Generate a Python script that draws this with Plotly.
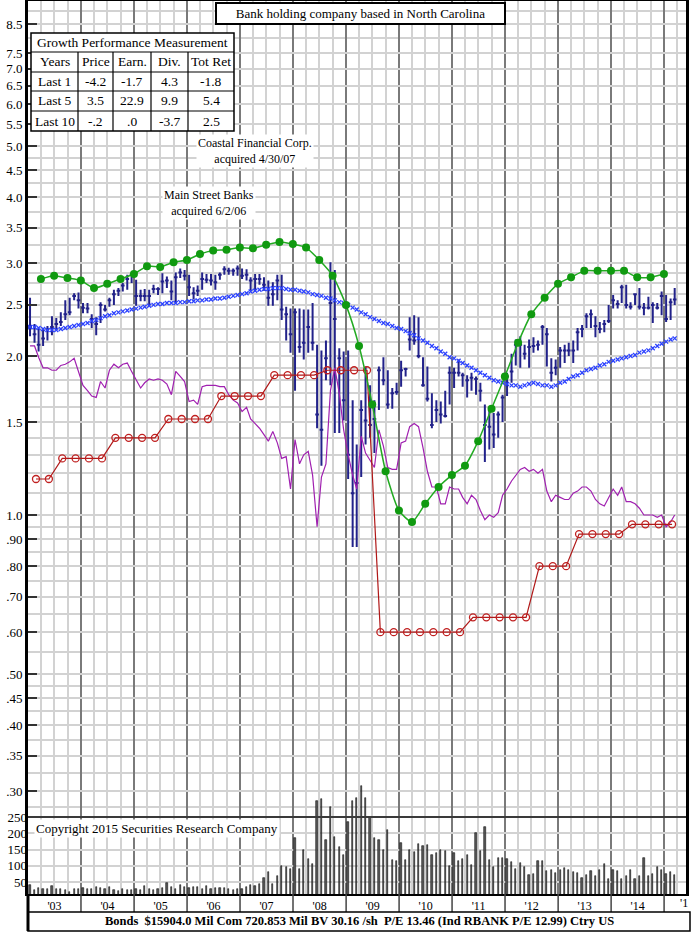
import plotly.graph_objects as go

# ---------------- DATA ----------------
N_MONTHS = 147  # Jan 2003 .. Mar 2015
month_dates = [f"{2003 + i // 12}-{i % 12 + 1:02d}-15" for i in range(N_MONTHS)]
quarter_ends = [f"{2003 + i // 4}-{['03-31', '06-30', '09-30', '12-31'][i % 4]}" for i in range(48)]
div_dates = [f"{2003 + (i * 3 + 1) // 12}-{(i * 3 + 1) % 12 + 1:02d}-25" for i in range(49)]

price_high = [2.58, 2.30, 2.25, 2.24, 2.28, 2.38, 2.36, 2.42, 2.55, 2.58, 2.63, 2.64,
              2.52, 2.52, 2.40, 2.37, 2.53, 2.50, 2.58, 2.67, 2.69, 2.75, 2.85, 2.87,
              2.79, 2.67, 2.68, 2.67, 2.73, 2.70, 2.87, 2.83, 2.78, 2.88, 2.93, 2.91,
              2.85, 2.70, 2.72, 2.88, 2.86, 2.86, 2.85, 2.88, 2.96, 2.94, 2.93, 2.97,
              2.93, 2.92, 2.82, 2.86, 2.86, 2.82, 2.78, 2.76, 2.85, 2.85, 2.48, 2.46,
              2.46, 2.46, 2.45, 2.45, 2.52, 2.10, 2.05, 2.14, 3.01, 2.91, 2.07, 2.04,
              2.05, 1.65, 1.36, 1.65, 1.91, 1.76, 1.65, 1.91, 1.99, 1.88, 1.74, 1.78,
              1.96, 1.90, 2.37, 2.39, 2.37, 1.99, 1.91, 1.70, 1.65, 1.64, 1.72, 1.91,
              1.90, 1.97, 1.86, 1.84, 1.86, 1.83, 1.78, 1.62, 1.58, 1.56, 1.57, 1.69,
              1.86, 2.02, 2.15, 2.18, 2.10, 2.15, 2.17, 2.14, 2.29, 2.26, 1.98, 1.97,
              2.08, 2.10, 2.12, 2.14, 2.26, 2.29, 2.41, 2.45, 2.38, 2.32, 2.34, 2.50,
              2.61, 2.55, 2.73, 2.73, 2.53, 2.63, 2.69, 2.52, 2.59, 2.53, 2.52, 2.65,
              2.61, 2.57, 2.69]
price_low = [2.18, 2.12, 2.04, 2.09, 2.14, 2.19, 2.24, 2.28, 2.34, 2.39, 2.55, 2.46,
             2.41, 2.41, 2.26, 2.19, 2.31, 2.43, 2.48, 2.50, 2.60, 2.65, 2.67, 2.75,
             2.49, 2.54, 2.54, 2.49, 2.63, 2.61, 2.63, 2.69, 2.55, 2.52, 2.81, 2.78,
             2.60, 2.56, 2.60, 2.67, 2.75, 2.72, 2.67, 2.79, 2.85, 2.85, 2.84, 2.84,
             2.80, 2.78, 2.66, 2.65, 2.73, 2.66, 2.49, 2.49, 2.55, 2.34, 2.14, 2.03,
             1.72, 2.03, 1.97, 2.03, 2.05, 1.46, 1.24, 1.80, 1.76, 1.43, 1.43, 1.51,
             1.17, 0.87, 0.87, 1.18, 1.36, 1.40, 1.31, 1.58, 1.76, 1.59, 1.59, 1.69,
             1.75, 1.83, 2.05, 2.10, 1.98, 1.75, 1.64, 1.46, 1.50, 1.49, 1.53, 1.62,
             1.74, 1.83, 1.75, 1.67, 1.72, 1.69, 1.64, 1.26, 1.33, 1.34, 1.40, 1.50,
             1.68, 1.78, 1.92, 1.90, 1.97, 1.90, 2.03, 2.05, 2.10, 1.91, 1.79, 1.84,
             1.90, 1.94, 2.00, 1.94, 2.05, 2.17, 2.26, 2.26, 2.17, 2.21, 2.22, 2.31,
             2.46, 2.46, 2.52, 2.46, 2.45, 2.50, 2.45, 2.39, 2.45, 2.31, 2.45, 2.39,
             2.32, 2.34, 2.50]
price_close = [2.27, 2.20, 2.10, 2.16, 2.25, 2.27, 2.30, 2.32, 2.40, 2.42, 2.60, 2.55,
               2.47, 2.46, 2.35, 2.30, 2.50, 2.45, 2.55, 2.62, 2.66, 2.72, 2.80, 2.85,
               2.60, 2.60, 2.60, 2.60, 2.68, 2.68, 2.77, 2.78, 2.65, 2.82, 2.88, 2.84,
               2.70, 2.63, 2.66, 2.80, 2.79, 2.78, 2.76, 2.85, 2.92, 2.90, 2.90, 2.93,
               2.84, 2.85, 2.78, 2.80, 2.80, 2.73, 2.58, 2.62, 2.78, 2.45, 2.40, 2.20,
               2.42, 2.08, 2.12, 2.27, 2.12, 1.55, 1.45, 1.98, 2.52, 2.35, 1.98, 1.65,
               1.30, 1.10, 1.15, 1.58, 1.51, 1.48, 1.52, 1.88, 1.80, 1.62, 1.70, 1.71,
               1.88, 1.89, 2.15, 2.14, 2.00, 1.76, 1.66, 1.48, 1.58, 1.55, 1.54, 1.86,
               1.86, 1.86, 1.84, 1.80, 1.82, 1.81, 1.72, 1.48, 1.47, 1.42, 1.55, 1.67,
               1.83, 1.87, 2.10, 2.10, 2.02, 2.08, 2.09, 2.10, 2.27, 2.20, 1.86, 1.90,
               2.05, 2.05, 2.05, 2.05, 2.22, 2.25, 2.38, 2.40, 2.28, 2.25, 2.30, 2.33,
               2.55, 2.51, 2.70, 2.50, 2.48, 2.62, 2.48, 2.47, 2.47, 2.50, 2.47, 2.60,
               2.35, 2.53, 2.56]

moving_avg = [2.27, 2.27, 2.26, 2.25, 2.24, 2.24, 2.24, 2.25, 2.26, 2.27, 2.28, 2.29,
              2.30, 2.31, 2.33, 2.34, 2.36, 2.38, 2.39, 2.41, 2.42, 2.43, 2.44, 2.45,
              2.46, 2.47, 2.48, 2.49, 2.50, 2.51, 2.51, 2.52, 2.52, 2.52, 2.53, 2.53,
              2.54, 2.54, 2.55, 2.55, 2.56, 2.56, 2.57, 2.57, 2.58, 2.59, 2.60, 2.61,
              2.62, 2.63, 2.65, 2.66, 2.67, 2.68, 2.68, 2.69, 2.69, 2.69, 2.68, 2.67,
              2.67, 2.66, 2.65, 2.64, 2.62, 2.61, 2.60, 2.58, 2.57, 2.55, 2.53, 2.52,
              2.50, 2.47, 2.45, 2.42, 2.40, 2.37, 2.35, 2.33, 2.31, 2.30, 2.28, 2.26,
              2.25, 2.23, 2.21, 2.19, 2.16, 2.14, 2.12, 2.09, 2.07, 2.04, 2.02, 1.99,
              1.98, 1.96, 1.94, 1.92, 1.90, 1.88, 1.86, 1.84, 1.82, 1.80, 1.79, 1.78,
              1.77, 1.76, 1.76, 1.75, 1.76, 1.77, 1.78, 1.77, 1.76, 1.76, 1.75, 1.76,
              1.78, 1.79, 1.81, 1.83, 1.84, 1.86, 1.88, 1.89, 1.90, 1.92, 1.93, 1.95,
              1.96, 1.97, 1.98, 1.99, 2.00, 2.01, 2.03, 2.04, 2.05, 2.07, 2.09, 2.11,
              2.13, 2.15, 2.16]

rel_strength = [2.09, 2.09, 1.99, 1.90, 1.90, 1.88, 1.88, 1.92, 1.93, 1.95, 1.98, 1.86,
                1.76, 1.72, 1.68, 1.67, 1.79, 1.74, 1.88, 1.93, 1.90, 1.93, 1.94, 1.87,
                1.80, 1.74, 1.78, 1.81, 1.80, 1.81, 1.80, 1.77, 1.69, 1.87, 1.83, 1.79,
                1.64, 1.65, 1.62, 1.75, 1.76, 1.76, 1.76, 1.75, 1.75, 1.69, 1.65, 1.63,
                1.57, 1.60, 1.52, 1.49, 1.46, 1.42, 1.38, 1.44, 1.37, 1.28, 1.29, 1.12,
                1.39, 1.25, 1.30, 1.32, 1.19, 0.95, 1.18, 1.25, 1.72, 1.90, 1.70, 1.45,
                1.30, 1.19, 1.12, 1.41, 1.31, 1.27, 1.23, 1.45, 1.35, 1.23, 1.22, 1.22,
                1.37, 1.38, 1.47, 1.49, 1.47, 1.34, 1.21, 1.13, 1.13, 1.05, 1.05, 1.13,
                1.12, 1.12, 1.08, 1.05, 1.09, 1.07, 1.02, 0.98, 1.00, 0.99, 1.01, 1.09,
                1.12, 1.16, 1.19, 1.22, 1.23, 1.21, 1.22, 1.20, 1.22, 1.11, 1.06, 1.09,
                1.08, 1.07, 1.07, 1.10, 1.11, 1.13, 1.13, 1.11, 1.07, 1.05, 1.04, 1.08,
                1.12, 1.09, 1.13, 1.06, 1.06, 1.05, 1.03, 1.00, 1.00, 1.00, 0.99, 1.00,
                0.95, 0.97, 1.00]

earnings = [2.80, 2.84, 2.81, 2.78, 2.69, 2.74, 2.80, 2.86, 2.96, 2.95, 3.01, 3.04,
            3.12, 3.17, 3.18, 3.21, 3.20, 3.25, 3.29, 3.26, 3.21, 3.04, 2.84, 2.50,
            2.09, 1.62, 1.21, 1.02, 0.97, 1.05, 1.13, 1.19, 1.24, 1.38, 1.59, 1.83,
            2.12, 2.40, 2.58, 2.74, 2.82, 2.90, 2.90, 2.90, 2.90, 2.82, 2.82, 2.86]

dividends = [1.17, 1.17, 1.28, 1.28, 1.28, 1.28, 1.40, 1.40, 1.40, 1.40, 1.52, 1.52,
             1.52, 1.52, 1.68, 1.68, 1.68, 1.68, 1.84, 1.84, 1.84, 1.84, 1.88, 1.88,
             1.88, 1.88, 0.60, 0.60, 0.60, 0.60, 0.60, 0.60, 0.60, 0.64, 0.64, 0.64,
             0.64, 0.64, 0.80, 0.80, 0.80, 0.92, 0.92, 0.92, 0.92, 0.96, 0.96, 0.96,
             0.96]

volume = [42, 25, 32, 28, 27, 38, 29, 30, 24, 20, 30, 28,
          32, 27, 30, 36, 33, 28, 34, 25, 22, 30, 26, 24,
          30, 24, 38, 28, 26, 30, 33, 46, 36, 28, 40, 34,
          33, 34, 35, 30, 38, 29, 33, 32, 31, 27, 24, 30,
          30, 34, 40, 38, 44, 62, 82, 45, 70, 100, 96, 90,
          185, 90, 147, 120, 105, 300, 305, 180, 280, 188, 158, 133,
          235, 300, 310, 345, 310, 250, 185, 180, 148, 210, 118, 115,
          170, 118, 150, 142, 167, 160, 165, 132, 140, 148, 145, 100,
          140, 115, 122, 133, 102, 200, 145, 218, 118, 95, 125, 125,
          122, 113, 90, 110, 95, 72, 75, 115, 115, 83, 88, 77,
          86, 92, 88, 80, 78, 63, 72, 83, 70, 86, 105, 60,
          88, 83, 60, 70, 86, 58, 68, 125, 70, 76, 95, 88,
          75, 82, 72]

price_tickvals = [0.30, 0.35, 0.40, 0.45, 0.50, 0.60, 0.70, 0.80, 0.90, 1.0, 1.5, 2.0,
                  2.5, 3.0, 3.5, 4.0, 4.5, 5.0, 5.5, 6.0, 6.5, 7.0, 7.5, 8.5]
price_ticktext = [".30", ".35", ".40", ".45", ".50", ".60", ".70", ".80", ".90", "1.0", "1.5", "2.0",
                  "2.5", "3.0", "3.5", "4.0", "4.5", "5.0", "5.5", "6.0", "6.5", "7.0", "7.5", "8.5"]
price_gridvals = [0.28, 0.325, 0.375, 0.425, 0.475, 0.55, 0.65, 0.75, 0.85, 0.95, 1.1, 1.2,
                  1.3, 1.4, 1.6, 1.7, 1.8, 1.9, 2.125, 2.25, 2.375, 2.625, 2.75, 2.875,
                  3.25, 3.75, 4.25, 4.75, 8.0, 9.0]
volume_tickvals = [50, 100, 150, 200, 250]

perf_title = "Growth Performance Measurement"
perf_header = ["Years", "Price", "Earn.", "Div.", "Tot Ret"]
perf_years = ["Last 1", "Last 5", "Last 10"]
perf_price = ["-4.2", "3.5", "-.2"]
perf_earn = ["-1.7", "22.9", ".0"]
perf_div = ["4.3", "9.9", "-3.7"]
perf_totret = ["-1.8", "5.4", "2.5"]

title_text = "Bank holding company based in North Carolina"
note_coastal = "Coastal Financial Corp.<br>acquired 4/30/07"
note_mainst = "Main Street Banks<br>acquired 6/2/06"
copyright_text = "Copyright 2015 Securities Research Company"
footer_text = "Bonds  $15904.0 Mil Com 720.853 Mil BV 30.16 /sh  P/E 13.46 (Ind RBANK P/E 12.99) Ctry US"

# ---------------- LAYOUT HELPERS ----------------
W, H = 691, 932
ML, MR, MT, MB = 28, 5, 1, 38
PW, PH = W - ML - MR, H - MT - MB


def px(x):
    return (x - ML) / PW


def py(y):
    return (H - MB - y) / PH


SERIF = "Liberation Serif"
GRID = "#d2d2d2"

fig = go.Figure()

# volume bars
fig.add_trace(go.Bar(x=month_dates, y=volume, yaxis="y2", width=9 * 86400000,
                     marker=dict(color="#5a5a5a", line=dict(color="#111111", width=0.6)),
                     hoverinfo="skip", showlegend=False))
# relative strength
fig.add_trace(go.Scatter(x=month_dates, y=rel_strength, mode="lines",
                         line=dict(color="#a020b0", width=1.2), hoverinfo="skip", showlegend=False))
# dividends
fig.add_trace(go.Scatter(x=div_dates, y=dividends, mode="lines+markers",
                         line=dict(color="#b01818", width=1.2),
                         marker=dict(symbol="circle-open", size=7, color="#c02020", line=dict(width=1.3)),
                         hoverinfo="skip", showlegend=False))
# moving average
fig.add_trace(go.Scatter(x=month_dates, y=moving_avg, mode="markers",
                         marker=dict(symbol="x-thin", size=4, color="#2a40ff",
                                     line=dict(width=1.3, color="#2a40ff")),
                         hoverinfo="skip", showlegend=False))
# price bars
fig.add_trace(go.Ohlc(x=month_dates, open=price_close, high=price_high, low=price_low, close=price_close,
                      increasing=dict(line=dict(color="#22228a", width=2)),
                      decreasing=dict(line=dict(color="#22228a", width=2)),
                      tickwidth=0.45, hoverinfo="skip", showlegend=False))
# earnings
fig.add_trace(go.Scatter(x=quarter_ends, y=earnings, mode="lines+markers",
                         line=dict(color="#22aa22", width=1.5, shape="spline", smoothing=0.6),
                         marker=dict(symbol="circle", size=8, color="#109a10"),
                         hoverinfo="skip", showlegend=False))

shapes = []
# dark line at volume 250
shapes.append(dict(type="line", xref="paper", x0=0, x1=1, yref="y2", y0=250, y1=250,
                   line=dict(color="#3a3a3a", width=2)))
# x label band separators
for yr in range(2004, 2016):
    shapes.append(dict(type="line", xref="x", x0=f"{yr}-01-01", x1=f"{yr}-01-01",
                       yref="paper", y0=py(912), y1=0, line=dict(color="#444444", width=1.5)))
# band bottom / footer box
shapes.append(dict(type="rect", xref="paper", x0=0, x1=px(690), yref="paper", y0=py(931), y1=py(912),
                   line=dict(color="black", width=1.5), fillcolor="white"))
shapes.append(dict(type="line", xref="paper", x0=0, x1=0, yref="paper", y0=py(931), y1=0,
                   line=dict(color="black", width=3)))

# performance table
tx = [31, 78, 113, 151, 188, 234]
ty = [33, 52, 72, 91, 111, 131]
shapes.append(dict(type="rect", xref="paper", yref="paper", x0=px(tx[0]), x1=px(tx[-1]),
                   y0=py(ty[-1]), y1=py(ty[0]), fillcolor="white", line=dict(color="black", width=1.5)))
for yy in ty[1:-1]:
    shapes.append(dict(type="line", xref="paper", yref="paper", x0=px(tx[0]), x1=px(tx[-1]),
                       y0=py(yy), y1=py(yy), line=dict(color="black", width=1.2)))
for xx in tx[1:-1]:
    shapes.append(dict(type="line", xref="paper", yref="paper", x0=px(xx), x1=px(xx),
                       y0=py(ty[-1]), y1=py(ty[1]), line=dict(color="black", width=1.2)))

annotations = []


def txt(x, y, s, size=13, **kw):
    d = dict(xref="paper", yref="paper", x=px(x), y=py(y), text=s, showarrow=False,
             font=dict(family=SERIF, size=size, color="black"), xanchor="center", yanchor="middle")
    d.update(kw)
    annotations.append(d)


txt((tx[0] + tx[-1]) / 2, (ty[0] + ty[1]) / 2, perf_title, 13.5)
cols = [perf_years, perf_price, perf_earn, perf_div, perf_totret]
for ci in range(5):
    cx = (tx[ci] + tx[ci + 1]) / 2
    txt(cx, (ty[1] + ty[2]) / 2, perf_header[ci], 13.5)
    for ri in range(3):
        txt(cx, (ty[ri + 2] + ty[ri + 3]) / 2, cols[ci][ri], 13.5)

# title box
annotations.append(dict(xref="paper", yref="paper", x=px(360), y=py(14), text=title_text, showarrow=False,
                        font=dict(family=SERIF, size=13, color="black"), bgcolor="white",
                        bordercolor="black", borderwidth=2, borderpad=2, width=283, height=15,
                        xanchor="center", yanchor="middle"))
txt(255, 151, note_coastal, 12, bgcolor="white")
txt(209, 203, note_mainst, 12, bgcolor="white")
txt(34, 828, copyright_text, 13, xanchor="left", bgcolor="white")
txt(359, 921, "<b>" + footer_text + "</b>", 12.5)
txt(684, 903, "'1", 12)

fig.update_layout(
    width=W, height=H, margin=dict(l=ML, r=MR, t=MT, b=MB, autoexpand=False),
    paper_bgcolor="white", plot_bgcolor="white", showlegend=False, bargap=0,
    xaxis=dict(type="date", range=["2003-01-01", "2015-06-01"], rangeslider=dict(visible=False),
               automargin=False, showgrid=True, gridcolor="#7a7a7a", gridwidth=2,
               dtick="M12", tick0="2003-01-01", tickformat="'%y", ticklabelmode="period", ticks="",
               tickfont=dict(family=SERIF, size=12, color="black"),
               showline=True, linecolor="black", linewidth=2, mirror=True, zeroline=False,
               minor=dict(dtick="M3", tick0="2003-01-01", showgrid=True, gridcolor=GRID, gridwidth=1.5, ticks="")),
    yaxis=dict(type="log", range=[-0.7178, 0.9735], tickvals=price_tickvals, ticktext=price_ticktext,
               automargin=False, showgrid=True, gridcolor=GRID, gridwidth=1.5, ticks="inside", ticklen=9,
               tickwidth=2, tickcolor="#333333", tickfont=dict(family=SERIF, size=13, color="black"),
               showline=True, linecolor="black", linewidth=3, mirror=True, zeroline=False,
               minor=dict(tickvals=price_gridvals, showgrid=True, gridcolor=GRID, gridwidth=1.5, ticks="")),
    yaxis2=dict(overlaying="y", side="left", range=[13.1, 2760.8], tickvals=volume_tickvals,
                automargin=False, showgrid=True, gridcolor=GRID, gridwidth=1.5, ticks="", zeroline=False,
                showline=False, tickfont=dict(family=SERIF, size=13, color="black")),
    shapes=shapes, annotations=annotations,
)

fig.write_html("out.html", config={"displayModeBar": False},
               post_script="document.body.style.margin='0px';document.body.style.overflow='hidden';")
